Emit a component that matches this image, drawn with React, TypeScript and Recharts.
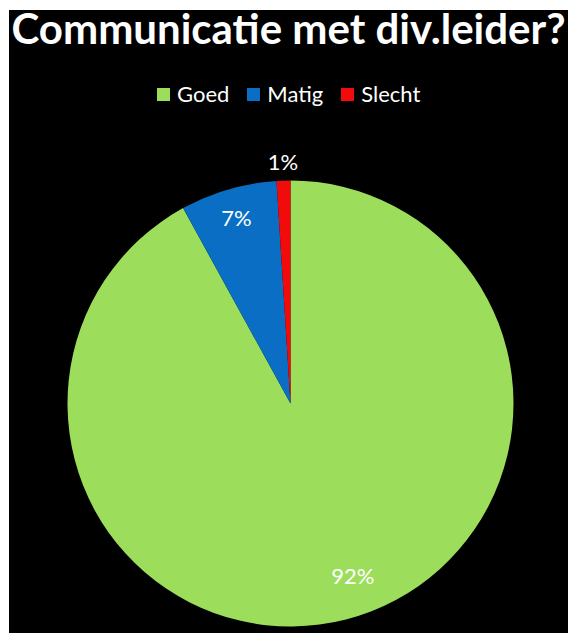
import { PieChart, Pie, Cell, Legend } from "recharts";

const categories = ["Goed", "Matig", "Slecht"];
const shares = [92, 7, 1];
const sliceColors = ["#9cde5b", "#0a6fc4", "#f20b0b"];

const data = categories.map((name, i) => ({ name, value: shares[i] }));

const RAD = Math.PI / 180;

// Excel's best-fit: big slices get the label inside, the tiny one sits just outside
const renderLabel = (props: any) => {
  const { cx, cy, midAngle, outerRadius, percent, index } = props;
  const r = index === 0 ? outerRadius * 0.82 : index === 1 ? outerRadius * 0.87 : outerRadius + 19;
  const angle = index === 0 ? midAngle + 5.5 : midAngle;
  const x = cx + r * Math.cos(-angle * RAD);
  const y = cy + r * Math.sin(-angle * RAD);
  return (
    <text
      x={x}
      y={y}
      fill="#ffffff"
      fontSize={22}
      fontFamily="Lato"
      textAnchor="middle"
      dominantBaseline="central"
    >
      {`${Math.round(percent * 100)}%`}
    </text>
  );
};

const LegendContent = () => (
  <div style={{ display: "flex", alignItems: "center", paddingLeft: 148, height: 24 }}>
    {categories.map((name, i) => (
      <div key={name} style={{ display: "flex", alignItems: "center", marginRight: 18 }}>
        <span
          style={{
            display: "inline-block",
            width: 13,
            height: 13,
            background: sliceColors[i],
            marginRight: 7,
          }}
        />
        <span style={{ color: "#ffffff", fontFamily: "Lato", fontSize: 22, lineHeight: "24px" }}>
          {name}
        </span>
      </div>
    ))}
  </div>
);

export default function App() {
  return (
    <div style={{ position: "absolute", left: 0, top: 0, width: 568, height: 633, background: "#ffffff" }}>
      <div style={{ position: "absolute", left: 9, top: 10, width: 559, height: 623, background: "#000000" }}>
        <div
          style={{
            position: "absolute",
            left: 0,
            top: -2,
            width: 559,
            textAlign: "center",
            color: "#ffffff",
            fontFamily: "Lato",
            fontWeight: 700,
            fontSize: 42,
            lineHeight: "40px",
            whiteSpace: "nowrap",
            zIndex: 1,
          }}
        >
          Communicatie met div.leider?
        </div>
        <PieChart width={559} height={623} margin={{ top: 0, right: 0, bottom: 0, left: 0 }}>
          <Legend
            verticalAlign="top"
            content={<LegendContent />}
            wrapperStyle={{ top: 72, left: 0, width: 559 }}
          />
          <Pie
            data={data}
            dataKey="value"
            nameKey="name"
            cx={281.5}
            cy={369.5}
            outerRadius={223}
            startAngle={90}
            endAngle={-270}
            stroke="none"
            label={renderLabel}
            labelLine={false}
            isAnimationActive={false}
          >
            {data.map((d, i) => (
              <Cell key={d.name} fill={sliceColors[i]} />
            ))}
          </Pie>
        </PieChart>
      </div>
    </div>
  );
}
